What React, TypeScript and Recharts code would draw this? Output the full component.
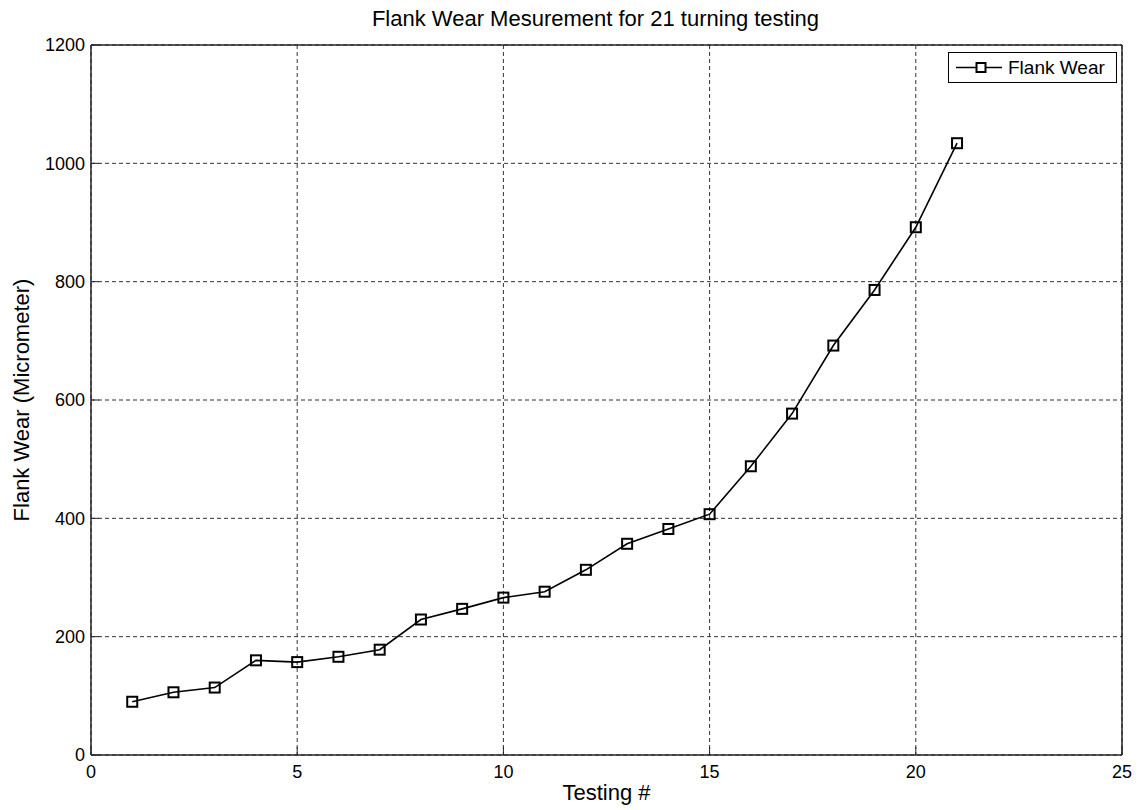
import { LineChart, Line, XAxis, YAxis, CartesianGrid, Legend } from "recharts";

const testNumbers = [1, 2, 3, 4, 5, 6, 7, 8, 9, 10, 11, 12, 13, 14, 15, 16, 17, 18, 19, 20, 21];
const flankWear = [90, 106, 114, 160, 157, 166, 178, 229, 247, 266, 276, 313, 357, 382, 407, 488, 577, 692, 786, 892, 1034];
const xTicks = [0, 5, 10, 15, 20, 25];
const yTicks = [0, 200, 400, 600, 800, 1000, 1200];

const data = testNumbers.map((t, i) => ({ test: t, wear: flankWear[i] }));

const FONT = "'Liberation Sans', Arial, sans-serif";

// open square marker, like matlab's 's' marker
const SquareDot = (props: any) => {
  const { cx, cy, index } = props;
  if (cx == null || cy == null) return null;
  return (
    <rect
      key={`dot-${index}`}
      x={cx - 5}
      y={cy - 5}
      width={10}
      height={10}
      fill="none"
      stroke="#000"
      strokeWidth={2}
    />
  );
};

const LegendBox = () => (
  <svg width={169} height={31} style={{ display: "block" }}>
    <rect x={0.5} y={0.5} width={168} height={30} fill="#fff" stroke="#000" />
    <line x1={8} y1={15.5} x2={54} y2={15.5} stroke="#000" strokeWidth={1.6} />
    <rect x={28.5} y={11} width={9} height={9} fill="#fff" stroke="#000" strokeWidth={2} />
    <text x={60} y={22} fontSize={19} fontFamily={FONT} fill="#000">
      Flank Wear
    </text>
  </svg>
);

const YLabel = (props: any) => {
  const vb = props.viewBox || {};
  const x = 29;
  const y = (vb.y ?? 45) + (vb.height ?? 710) / 2;
  return (
    <text
      x={x}
      y={y}
      transform={`rotate(-90 ${x} ${y})`}
      textAnchor="middle"
      fontSize={22}
      fontFamily={FONT}
      fill="#000"
    >
      Flank Wear (Micrometer)
    </text>
  );
};

export default function App() {
  const axisColor = "#262626";
  const tickStyle = { fill: "#000", fontSize: 18, fontFamily: FONT };

  return (
    <div style={{ position: "absolute", left: 0, top: 0, width: 1143, height: 810, background: "#fff" }}>
      <div
        style={{
          position: "absolute",
          left: 80,
          width: 1031,
          top: 6,
          textAlign: "center",
          fontFamily: FONT,
          fontSize: 22,
          lineHeight: "26px",
          color: "#000",
        }}
      >
        Flank Wear Mesurement for 21 turning testing
      </div>
      <LineChart
        width={1143}
        height={810}
        data={data}
        margin={{ top: 44, right: 20, bottom: 0, left: 0 }}
        style={{ position: "absolute", left: 0, top: 0 }}
      >
        <CartesianGrid stroke="#333" strokeDasharray="4 3" strokeWidth={1} />
        <XAxis
          dataKey="test"
          type="number"
          domain={[0, 25]}
          ticks={xTicks}
          interval={0}
          height={55}
          tick={tickStyle}
          tickSize={-8}
          tickMargin={18}
          stroke={axisColor}
          axisLine={{ strokeWidth: 1.5 }}
          label={{ value: "Testing #", position: "insideBottom", offset: 10, fontSize: 22, fontFamily: FONT, fill: "#000" }}
        />
        <XAxis
          xAxisId="top"
          orientation="top"
          type="number"
          domain={[0, 25]}
          ticks={xTicks}
          interval={0}
          height={1}
          tick={false}
          tickSize={-8}
          stroke={axisColor}
          axisLine={{ strokeWidth: 1.5 }}
        />
        <YAxis
          type="number"
          domain={[0, 1200]}
          ticks={yTicks}
          interval={0}
          width={91}
          tick={tickStyle}
          tickSize={-8}
          tickMargin={14}
          stroke={axisColor}
          axisLine={{ strokeWidth: 1.5 }}
          label={<YLabel />}
        />
        <YAxis
          yAxisId="right"
          orientation="right"
          type="number"
          domain={[0, 1200]}
          ticks={yTicks}
          interval={0}
          width={1}
          tick={false}
          tickSize={-8}
          stroke={axisColor}
          axisLine={{ strokeWidth: 1.5 }}
        />
        <Legend
          layout="horizontal"
          verticalAlign="middle"
          align="center"
          content={() => <LegendBox />}
          wrapperStyle={{ position: "absolute", left: 948, top: 52, width: 169, height: 31 }}
        />
        <Line
          type="linear"
          dataKey="wear"
          name="Flank Wear"
          stroke="#000"
          strokeWidth={1.6}
          dot={<SquareDot />}
          activeDot={false}
          isAnimationActive={false}
        />
      </LineChart>
    </div>
  );
}
